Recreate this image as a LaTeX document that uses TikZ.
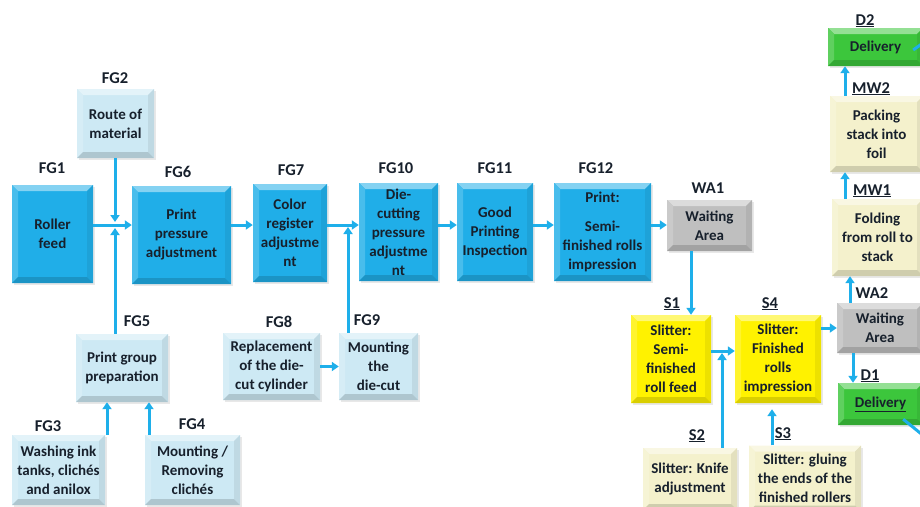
\documentclass[tikz,border=0pt]{standalone}
\usepackage{fontspec}
\setmainfont{Carlito}
\usetikzlibrary{arrows.meta,shadows}

\definecolor{flow}{HTML}{1EAFEA}
\definecolor{bluebox}{HTML}{20AEE8}
\definecolor{paleblue}{HTML}{CDE9F4}
\definecolor{greybox}{HTML}{BFBFBF}
\definecolor{yellowbox}{HTML}{FFF200}
\definecolor{creambox}{HTML}{F4F1CC}
\definecolor{greenbox}{HTML}{3CC63C}
\definecolor{ink}{HTML}{17202C}

\tikzset{
  % box with a bevelled rim: light top/left, dark right/bottom
  bevelbox/.style={draw=none, fill=#1, inner sep=0pt, align=center, text=ink,
    font=\bfseries\fontsize{15}{19}\selectfont,
    drop shadow={opacity=0.18, shadow xshift=1.5pt, shadow yshift=-2pt},
    path picture={
      \fill[#1!55!white] (path picture bounding box.north west)
        -- (path picture bounding box.north east)
        -- ([shift={(-6pt,-6pt)}]path picture bounding box.north east)
        -- ([shift={(6pt,-6pt)}]path picture bounding box.north west) -- cycle;
      \fill[#1!82!white] (path picture bounding box.north west)
        -- (path picture bounding box.south west)
        -- ([shift={(6pt,6pt)}]path picture bounding box.south west)
        -- ([shift={(6pt,-6pt)}]path picture bounding box.north west) -- cycle;
      \fill[#1!93!black] (path picture bounding box.north east)
        -- (path picture bounding box.south east)
        -- ([shift={(-6pt,6pt)}]path picture bounding box.south east)
        -- ([shift={(-6pt,-6pt)}]path picture bounding box.north east) -- cycle;
      \fill[#1!85!black] (path picture bounding box.south west)
        -- (path picture bounding box.south east)
        -- ([shift={(-6pt,6pt)}]path picture bounding box.south east)
        -- ([shift={(6pt,6pt)}]path picture bounding box.south west) -- cycle;
    }},
  lab/.style={font=\bfseries\fontsize{16.5}{20}\selectfont, text=ink,
    inner sep=0pt, anchor=base},
  arr/.style={draw=flow, line width=3pt, -{Triangle[length=7pt,width=9pt]}},
  ln/.style={draw=flow, line width=3pt},
}

\begin{document}
\begin{tikzpicture}[x=1pt, y=-1pt]
\useasboundingbox (0,0) rectangle (920,506);

% printing line
\node[bevelbox=bluebox, minimum width=81pt, minimum height=98pt] (fg1) at (52.5,234) {Roller\\feed};
\node[bevelbox=paleblue, minimum width=77pt, minimum height=69pt] (fg2) at (115.5,123.5) {Route of\\material};
\node[bevelbox=bluebox, minimum width=99pt, minimum height=98pt] (fg6) at (181.5,235) {Print\\pressure\\adjustment};
\node[bevelbox=bluebox, minimum width=74pt, minimum height=98pt] (fg7) at (290,233) {Color\\register\\adjustme\\nt};
\node[bevelbox=bluebox, minimum width=79pt, minimum height=98pt] (fg10) at (398.5,232) {Die-\\cutting\\pressure\\adjustme\\nt};
\node[bevelbox=bluebox, minimum width=76pt, minimum height=98pt] (fg11) at (495,232) {Good\\Printing\\Inspection};
\node[bevelbox=bluebox, minimum width=97pt, minimum height=98pt] (fg12) at (602.5,232) {Print:\\[10pt]Semi-\\finished rolls\\impression};
\node[bevelbox=greybox, minimum width=85pt, minimum height=51pt] (wa1) at (709.5,225.5) {Waiting\\Area};

% preparation steps
\node[bevelbox=paleblue, minimum width=92pt, minimum height=68pt] (fg5) at (122,368) {Print group\\preparation};
\node[bevelbox=paleblue, minimum width=93pt, minimum height=70pt] (fg3) at (58.5,470) {Washing ink\\tanks, clichés\\and anilox};
\node[bevelbox=paleblue, minimum width=95pt, minimum height=70pt] (fg4) at (192.5,470) {Mounting /\\Removing\\clichés};
\node[bevelbox=paleblue, minimum width=97pt, minimum height=67pt] (fg8) at (271.5,366.5) {Replacement\\of the die-\\cut cylinder};
\node[bevelbox=paleblue, minimum width=79pt, minimum height=67pt] (fg9) at (378.5,366.5) {Mounting\\the\\die-cut};

% slitter
\node[bevelbox=yellowbox, minimum width=80pt, minimum height=88pt] (s1) at (671,359) {Slitter:\\Semi-\\finished\\roll feed};
\node[bevelbox=yellowbox, minimum width=86pt, minimum height=88pt] (s4) at (778,359) {Slitter:\\Finished\\rolls\\impression};
\node[bevelbox=creambox, minimum width=94pt, minimum height=62pt] (s2) at (690,479) {Slitter: Knife\\adjustment};
\node[bevelbox=creambox, minimum width=112pt, minimum height=66pt] (s3) at (805,478.5) {Slitter: gluing\\the ends of the\\finished rollers};

% storage, packing and delivery
\node[bevelbox=greybox, minimum width=86pt, minimum height=50pt] (wa2) at (880,328) {Waiting\\Area};
\node[bevelbox=greenbox, minimum width=85pt, minimum height=42pt] (d1) at (880.5,404) {\underline{Delivery}};
\node[bevelbox=creambox, minimum width=91pt, minimum height=77pt] (mw1) at (877.5,237.5) {Folding\\from roll to\\stack};
\node[bevelbox=creambox, minimum width=93pt, minimum height=76pt] (mw2) at (876.5,134) {Packing\\stack into\\foil};
\node[bevelbox=greenbox, minimum width=95pt, minimum height=38pt] (d2) at (875.5,47) {Delivery};

% step labels
\node[lab] (lfg1) at (52,173) {FG1};
\node[lab] (lfg2) at (115,83) {FG2};
\node[lab] (lfg6) at (178,177) {FG6};
\node[lab] (lfg7) at (291,175) {FG7};
\node[lab] (lfg10) at (396,173) {FG10};
\node[lab] (lfg11) at (495,173) {FG11};
\node[lab] (lfg12) at (596,173) {FG12};
\node[lab] (lwa1) at (708,193) {WA1};
\node[lab] (lfg5) at (137,326) {FG5};
\node[lab] (lfg3) at (48,431) {FG3};
\node[lab] (lfg4) at (192,429) {FG4};
\node[lab] (lfg8) at (279,327) {FG8};
\node[lab] (lfg9) at (367,325) {FG9};
\node[lab] (ls1) at (672,308) {\underline{S1}};
\node[lab] (ls4) at (770,308) {\underline{S4}};
\node[lab] (lwa2) at (872,298) {WA2};
\node[lab] (ld1) at (870,380) {\underline{D1}};
\node[lab] (ls2) at (697,440) {\underline{S2}};
\node[lab] (ls3) at (783,438) {\underline{S3}};
\node[lab] (lmw1) at (872,195) {\underline{MW1}};
\node[lab] (lmw2) at (871,93) {\underline{MW2}};
\node[lab] (ld2) at (865,25) {\underline{D2}};

% helper points for connector rows and columns
\coordinate (row) at (0,225);
\coordinate (j1) at (115,225);
\coordinate (j2) at (348,225);
\coordinate (j3) at (722,351);
\coordinate (c1) at (691,0);
\coordinate (c3) at (772,0);
\coordinate (c4) at (853,0);
\coordinate (c5) at (850,0);
\coordinate (c6) at (845,0);
\coordinate (e1) at (930,441);
\coordinate (e2) at (930,38);

% connectors
\draw[arr] (fg1.east |- row) -- (fg6.west |- row);
\draw[arr] (fg2.south -| j1) -- ([yshift=3pt]j1);
\draw[arr] (fg5.north -| j1) -- ([yshift=-3pt]j1);
\draw[arr] (fg6.east |- row) -- (fg7.west |- row);
\draw[arr] (fg7.east |- row) -- (fg10.west |- row);
\draw[arr] (fg9.north -| j2) -- ([yshift=-2pt]j2);
\draw[arr] (fg8) -- (fg9);
\draw[arr] (fg3.north -| 107,0) -- (fg5.south -| 107,0);
\draw[arr] (fg4.north -| 149,0) -- (fg5.south -| 149,0);
\draw[arr] (fg10.east |- row) -- (fg11.west |- row);
\draw[arr] (fg11.east |- row) -- (fg12.west |- row);
\draw[arr] (fg12.east |- row) -- (wa1.west |- row);
\draw[arr] (wa1.south -| c1) -- (s1.north -| c1);
\draw[arr] (s1.east |- j3) -- (s4.west |- j3);
\draw[arr] (s2.north -| j3) -- ([yshift=-2pt]j3);
\draw[arr, shorten >=6pt] (s3.north -| c3) -- (s4.south -| c3);
\draw[arr] (s4.east |- wa2) -- (wa2.west);
\draw[arr] (wa2.south -| c4) -- (d1.north -| c4);
\draw[arr] (wa2.north -| c5) -- (mw1.south -| c5);
\draw[arr] (mw1.north -| c6) -- (mw2.south -| c6);
\draw[arr] (mw2.north -| c6) -- (d2.south -| c6);
\draw[ln] ([shift={(-20pt,6pt)}]d1.south east) -- (e1);
\draw[ln] ([shift={(-10pt,-3pt)}]d2.east) -- (e2);
\end{tikzpicture}
\end{document}
